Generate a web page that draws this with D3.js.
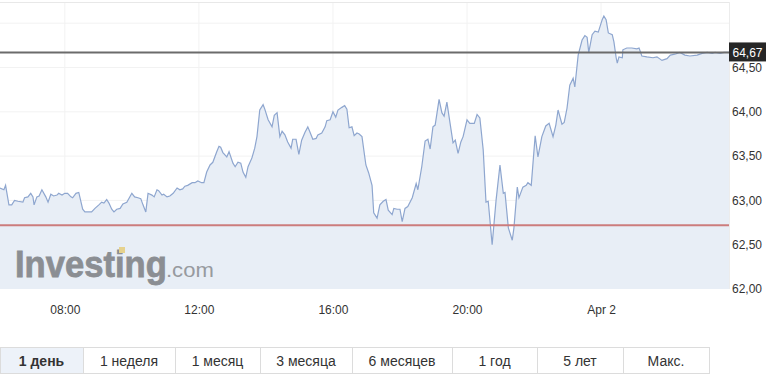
<!DOCTYPE html>
<html>
<head>
<meta charset="utf-8">
<script src="https://cdn.jsdelivr.net/npm/d3@7"></script>
<style>
  body { margin: 0; background: #fff; }
  svg { display: block; font-family: Arial, "Liberation Sans", sans-serif; }
  .axis text { fill: #333; font-size: 12px; }
  .btn text { fill: #333; font-size: 14px; }
  .watermark text { font-family: "Liberation Sans", Arial, sans-serif; }
</style>
</head>
<body>
<svg id="chart" width="782" height="386"></svg>
<script>
// Time of each quote (Apr 1 -> Apr 2), hh:mm
var times = [
  "06:04","06:11","06:14","06:20","06:25","06:30","06:36","06:45","06:48","06:54",
  "06:59","07:03","07:05","07:10","07:14","07:19","07:26","07:30","07:35","07:40",
  "07:46","07:49","07:55","08:00","08:05","08:11","08:14","08:20","08:25","08:32",
  "08:36","08:41","08:48","08:54","09:01","09:06","09:10","09:15","09:19","09:24",
  "09:28","09:33","09:39","09:44","09:51","10:00","10:05","10:11","10:16","10:20",
  "10:25","10:29","10:36","10:40","10:45","10:48","10:54","10:57","11:03","11:08",
  "11:14","11:21","11:26","11:31","11:35","11:40","11:48","11:53","11:58","12:05",
  "12:09","12:14","12:20","12:25","12:32","12:36","12:39","12:43","12:50","12:54",
  "13:01","13:05","13:10","13:15","13:19","13:24","13:28","13:35","13:40","13:44",
  "13:49","13:55","13:58","14:04","14:11","14:15","14:20","14:25","14:29","14:34",
  "14:39","14:45","14:48","14:54","14:59","15:04","15:10","15:15","15:19","15:24",
  "15:30","15:33","15:40","15:46","15:49","15:55","16:00","16:05","16:09","16:16",
  "16:21","16:25","16:29","16:34","16:38","16:43","16:47","16:52","16:57","16:59",
  "17:04","17:10","17:13","17:19","17:24","17:30","17:35","17:39","17:46","17:49",
  "17:55","18:00","18:04","18:09","18:14","18:22","18:29","18:32","18:39","18:45",
  "18:50","18:54","18:59","19:03","19:10","19:15","19:19","19:24","19:28","19:35",
  "19:39","19:44","19:49","19:53","20:00","20:05","20:13","20:18","20:23","20:29",
  "20:34","20:38","20:45","20:52","20:59","21:05","21:08","21:14","21:21","21:24",
  "21:30","21:33","21:40","21:46","21:49","21:55","22:02","22:07","22:14","22:21",
  "22:27","22:34","22:39","22:43","22:50","22:54","22:59","23:04","23:10","23:13",
  "23:19","23:26","23:31","23:35","23:38","23:44","23:49","23:55","00:02","00:05",
  "00:09","00:13","00:20","00:23","00:27","00:29","00:32","00:38","00:39","00:46",
  "00:55","01:04","01:08","01:13","01:22","01:33","01:40","01:49","01:58","02:04",
  "02:12","02:21","02:30","02:39","02:52","03:01","03:10","03:19","03:24","03:33",
  "03:40","03:46"
];

// Price at each time
var prices = [
  63.14,63.12,63.17,62.95,62.95,63.00,62.99,62.98,63.03,63.04,
  63.08,63.04,62.95,63.04,63.05,63.12,63.04,62.98,63.07,63.05,
  63.06,63.08,63.06,63.08,63.08,63.04,63.03,63.08,63.09,62.90,
  62.87,62.87,62.87,62.91,62.95,62.98,62.97,63.01,62.97,62.90,
  62.87,62.90,62.91,62.96,62.98,63.08,63.04,63.03,63.02,62.95,
  62.87,63.08,63.06,63.04,63.12,63.11,63.06,63.07,63.04,63.05,
  63.08,63.14,63.12,63.13,63.16,63.17,63.20,63.20,63.22,63.20,
  63.20,63.32,63.40,63.43,63.55,63.61,63.60,63.54,63.49,63.55,
  63.42,63.38,63.43,63.42,63.32,63.26,63.38,63.48,63.59,63.72,
  64.02,64.08,64.03,63.91,63.83,63.96,63.99,63.72,63.78,63.74,
  63.66,63.59,63.69,63.69,63.52,63.68,63.77,63.83,63.77,63.69,
  63.70,63.74,63.76,63.83,63.90,63.91,64.00,63.94,64.02,64.05,
  64.07,64.03,63.82,63.83,63.73,63.76,63.75,63.72,63.49,63.40,
  63.31,63.17,62.86,62.80,62.95,62.99,63.01,62.89,62.84,62.91,
  62.90,62.90,62.76,62.91,62.93,63.03,63.19,63.12,63.38,63.67,
  63.69,63.58,63.83,63.85,64.14,63.99,63.95,64.11,63.94,63.65,
  63.68,63.53,63.66,63.72,63.91,63.87,63.87,63.97,63.93,63.57,
  62.98,62.99,62.50,63.00,63.40,63.08,63.09,62.69,62.55,62.69,
  63.15,63.03,63.15,63.17,63.20,63.17,63.73,63.49,63.72,63.84,
  63.87,63.72,63.85,64.02,63.86,63.88,64.04,64.30,64.38,64.28,
  64.64,64.81,64.86,64.84,64.67,64.87,64.91,64.90,65.04,65.08,
  65.04,64.89,64.87,64.79,64.61,64.55,64.62,64.61,64.70,64.72,
  64.72,64.71,64.72,64.63,64.62,64.61,64.62,64.58,64.60,64.64,
  64.65,64.67,64.64,64.63,64.64,64.66,64.67,64.66,64.67,64.66,
  64.67,64.67
];

// Axis and reference values
var yTicks = [62, 62.5, 63, 63.5, 64, 64.5];
var yGrid = [62.5, 63, 63.5, 64, 64.5, 65];
var lastPrice = 64.67;
var prevClose = 62.72;
var viewStart = "2019-04-01 06:04";
var viewEnd = "2019-04-02 03:49";

// Range buttons
var ranges = ["1 день", "1 неделя", "1 месяц", "3 месяца", "6 месяцев", "1 год", "5 лет", "Макс."];
var activeRange = 0;

// Layout
var plotW = 729, plotH = 289;
var btnEdges = [0, 83, 175, 260, 352, 452, 537, 623, 709];
var btnTop = 347, btnH = 26;

var parseFull = d3.timeParse("%Y-%m-%d %H:%M");

// build dates, rolling over to Apr 2 after midnight
var day = 1, prevMin = -1;
var data = times.map(function(t, i) {
  var p = t.split(":");
  var m = +p[0] * 60 + +p[1];
  if (m < prevMin) day += 1;
  prevMin = m;
  return { date: parseFull("2019-04-0" + day + " " + t), value: prices[i] };
});

var svg = d3.select("#chart");

var x = d3.scaleTime()
  .domain([parseFull(viewStart), parseFull(viewEnd)])
  .range([0, plotW]);

var y = d3.scaleLinear()
  .domain([62, 64.5])
  .range([plotH, 67.5]);

var comma = function(v) { return d3.format(".2f")(v).replace(".", ","); };

// grid
svg.append("g")
  .selectAll("line")
  .data(yGrid)
  .enter()
  .append("line")
  .attr("x1", 0).attr("x2", plotW)
  .attr("y1", function(d) { return y(d); })
  .attr("y2", function(d) { return y(d); })
  .attr("stroke", "#f2f2f2");

var xTicks = x.ticks(d3.timeHour.every(4));

svg.append("g")
  .selectAll("line")
  .data(xTicks)
  .enter()
  .append("line")
  .attr("x1", function(d) { return x(d); })
  .attr("x2", function(d) { return x(d); })
  .attr("y1", 3).attr("y2", plotH)
  .attr("stroke", "#f2f2f2");

// area + line
var area = d3.area()
  .x(function(d) { return x(d.date); })
  .y0(plotH)
  .y1(function(d) { return y(d.value); });

var line = d3.line()
  .x(function(d) { return x(d.date); })
  .y(function(d) { return y(d.value); });

// extend fill to the right edge at last price
var fillData = data.concat([{ date: x.domain()[1], value: prices[prices.length - 1] }]);

svg.append("path")
  .datum(fillData)
  .attr("d", area)
  .attr("fill", "#e8eef6");

// watermark
var wm = svg.append("g").attr("class", "watermark");
wm.append("text")
  .attr("transform", "translate(15,277) scale(0.935,1)")
  .attr("font-size", 37)
  .style("font-weight", "700")
  .attr("fill", "#8b8e93")
  .attr("stroke", "#8b8e93")
  .attr("stroke-width", 0.8)
  .text("Investing");
wm.append("text")
  .attr("transform", "translate(166,277) scale(1.05,1)")
  .attr("font-size", 21)
  .attr("fill", "#979a9f")
  .text(".com");
wm.append("rect")
  .attr("x", 119).attr("y", 247)
  .attr("width", 6).attr("height", 6)
  .attr("fill", "#e6d28e");

svg.append("path")
  .datum(fillData)
  .attr("d", line)
  .attr("fill", "none")
  .attr("stroke", "#8ea6cf")
  .attr("stroke-width", 1.2);

// plot borders
svg.append("line")
  .attr("x1", 0).attr("x2", plotW)
  .attr("y1", 2.5).attr("y2", 2.5)
  .attr("stroke", "#e8e8e8");
svg.append("line")
  .attr("x1", plotW + 0.5).attr("x2", plotW + 0.5)
  .attr("y1", 2).attr("y2", plotH)
  .attr("stroke", "#ececec");

// reference lines
svg.append("line")
  .attr("x1", 0).attr("x2", plotW)
  .attr("y1", y(prevClose)).attr("y2", y(prevClose))
  .attr("stroke", "#cc7c7c")
  .attr("stroke-width", 2);

svg.append("line")
  .attr("x1", 0).attr("x2", plotW)
  .attr("y1", y(lastPrice)).attr("y2", y(lastPrice))
  .attr("stroke", "#6b6b6b")
  .attr("stroke-width", 2);

// y axis
var yAxis = d3.axisRight(y)
  .tickValues(yTicks)
  .tickSize(0)
  .tickPadding(3)
  .tickFormat(comma);

svg.append("g")
  .attr("class", "axis")
  .attr("transform", "translate(" + plotW + ",0)")
  .call(yAxis)
  .call(function(g) { g.select(".domain").remove(); });

// x axis
var xAxis = d3.axisBottom(x)
  .tickValues(xTicks)
  .tickSize(0)
  .tickPadding(16)
  .tickFormat(function(d) {
    return d.getHours() === 0 && d.getMinutes() === 0 ? d3.timeFormat("Apr %-d")(d) : d3.timeFormat("%H:%M")(d);
  });

svg.append("g")
  .attr("class", "axis")
  .attr("transform", "translate(0," + plotH + ")")
  .call(xAxis)
  .call(function(g) { g.select(".domain").remove(); });

// last price tag
var ly = y(lastPrice);
svg.append("rect")
  .attr("x", plotW).attr("y", ly - 10)
  .attr("width", 37).attr("height", 19)
  .attr("fill", "#262626");
svg.append("text")
  .attr("x", plotW + 3.5).attr("y", ly + 4.5)
  .attr("font-size", 12)
  .attr("fill", "#fff")
  .text(comma(lastPrice));

// range buttons
var btns = svg.append("g").attr("class", "btn");
var bg = btns.selectAll("g")
  .data(ranges)
  .enter()
  .append("g");

bg.append("rect")
  .attr("x", function(d, i) { return btnEdges[i] + 0.5; })
  .attr("y", btnTop + 0.5)
  .attr("width", function(d, i) { return btnEdges[i + 1] - btnEdges[i]; })
  .attr("height", btnH)
  .attr("fill", function(d, i) { return i === activeRange ? "#edf2f9" : "#fff"; })
  .attr("stroke", "#dcdcdc");

bg.append("text")
  .attr("x", function(d, i) { return (btnEdges[i] + btnEdges[i + 1]) / 2; })
  .attr("y", btnTop + 18.5)
  .attr("text-anchor", "middle")
  .attr("font-weight", function(d, i) { return i === activeRange ? "bold" : "normal"; })
  .text(function(d) { return d; });
</script>
</body>
</html>
